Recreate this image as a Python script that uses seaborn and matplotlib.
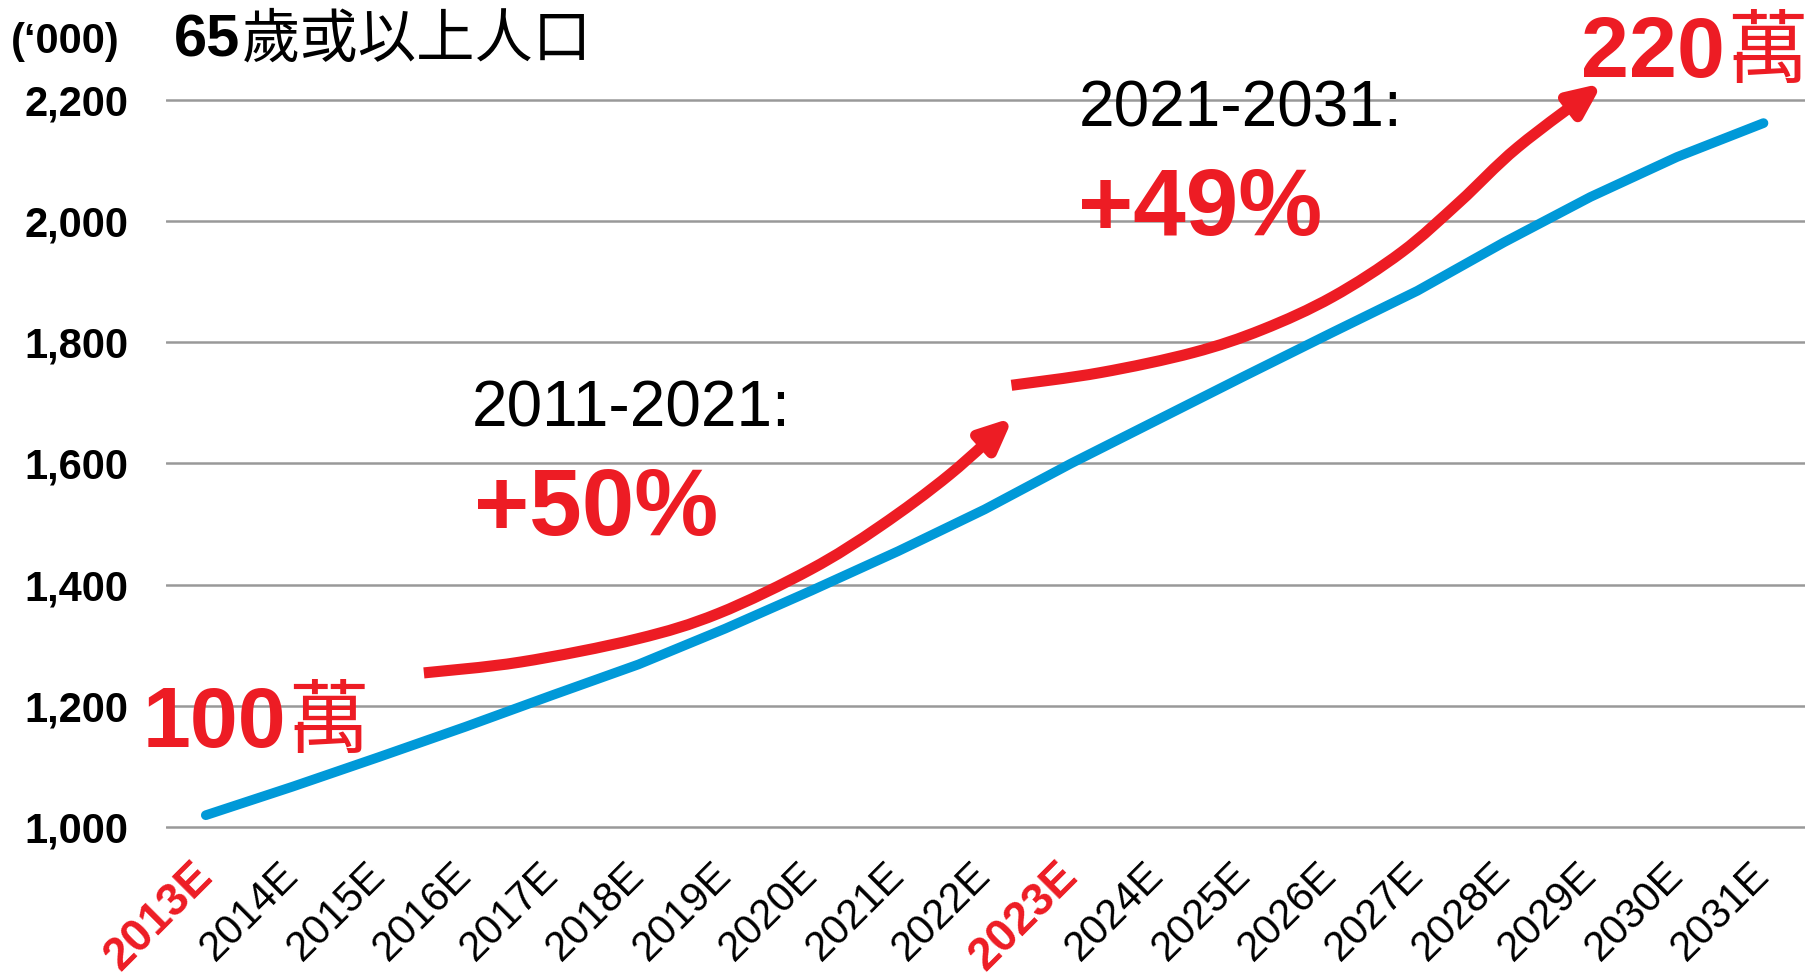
import matplotlib
matplotlib.use("Agg")
import matplotlib.pyplot as plt
from matplotlib.path import Path
from matplotlib.patches import FancyArrowPatch
import numpy as np
import pandas as pd
import seaborn as sns

# ---------------- data ----------------
years = ["2013E", "2014E", "2015E", "2016E", "2017E", "2018E", "2019E", "2020E",
         "2021E", "2022E", "2023E", "2024E", "2025E", "2026E", "2027E", "2028E",
         "2029E", "2030E", "2031E"]
population = [1019, 1066, 1115, 1165, 1217, 1268, 1327, 1390, 1455, 1524,
              1600, 1672, 1744, 1815, 1885, 1965, 2040, 2106, 2162]
highlight_years = ["2013E", "2023E"]
y_ticks = [1000, 1200, 1400, 1600, 1800, 2000, 2200]

# annotation arrows (x = year index, y = value)
arrow1_x = [2.52, 3.64, 4.98, 5.92, 6.99, 7.79, 8.60, 9.33]
arrow1_y = [1254, 1272, 1310, 1352, 1425, 1496, 1582, 1676]
arrow2_x = [9.31, 10.34, 11.41, 12.21, 13.02, 13.82, 14.49, 15.16, 16.14]
arrow2_y = [1729, 1750, 1783, 1821, 1875, 1949, 2032, 2122, 2228]

title_num = "65"
title_cjk = "歲或以上人口"
unit_label = "(‘000)"
period1 = "2011-2021:"
growth1 = "+50%"
period2 = "2021-2031:"
growth2 = "+49%"
start_num, end_num, wan = "100", "220", "萬"

BLUE = "#0099D8"
RED = "#ED1C24"

# ---------------- style ----------------
sns.set_theme(style="white")
plt.rcParams["font.family"] = ["Liberation Sans", "Noto Sans CJK TC", "DejaVu Sans"]

W, H = 1816, 977
fig = plt.figure(figsize=(W / 100, H / 100), dpi=100)
fig.patch.set_facecolor("white")

ax_left, ax_right = 166, 1805
ax_top_v, ax_bot_v = 2300, 980
y_of = lambda v: 826.7 - (v - 1000) * 0.6055
top_px, bot_px = y_of(ax_top_v), y_of(ax_bot_v)
ax = fig.add_axes([ax_left / W, 1 - bot_px / H, (ax_right - ax_left) / W, (bot_px - top_px) / H])

df = pd.DataFrame({"idx": np.arange(len(years)), "pop": population})
sns.lineplot(data=df, x="idx", y="pop", color=BLUE, linewidth=7, ax=ax,
             solid_capstyle="round", zorder=3)

ax.set_xlim(-0.46, 18.48)
ax.set_ylim(ax_bot_v, ax_top_v)
for s in ax.spines.values():
    s.set_visible(False)
ax.set_xlabel("")
ax.set_ylabel("")
ax.set_yticks(y_ticks)
ax.set_yticklabels([f"{v:,}" for v in y_ticks], fontsize=30, fontweight="bold", color="black")
ax.yaxis.grid(True, color="#999999", linewidth=1.8)
ax.xaxis.grid(False)
ax.set_axisbelow(True)
ax.tick_params(axis="y", length=0, pad=27)
ax.set_xticks(np.arange(len(years)))
ax.set_xticklabels(years, rotation=45, ha="right", va="center", rotation_mode="anchor",
                   fontsize=30, color="black")
ax.tick_params(axis="x", length=0, pad=22)
for lbl in ax.get_xticklabels():
    if lbl.get_text() in highlight_years:
        lbl.set_color(RED)
        lbl.set_fontweight("bold")
        lbl.set_fontsize(33)


def smooth_path(xs, ys):
    """Catmull-Rom curve through the given points as cubic Bezier segments."""
    P = np.column_stack([xs, ys]).astype(float)
    n = len(P)
    verts = [P[0]]
    codes = [Path.MOVETO]
    for i in range(n - 1):
        p0 = P[i - 1] if i > 0 else P[i]
        p1, p2 = P[i], P[i + 1]
        p3 = P[i + 2] if i + 2 < n else P[i + 1]
        c1 = p1 + (p2 - p0) / 6.0
        c2 = p2 - (p3 - p1) / 6.0
        verts += [c1, c2, p2]
        codes += [Path.CURVE4] * 3
    return Path(np.array(verts), codes)


def draw_arrow(xs, ys):
    p = smooth_path(xs, ys)
    arr = FancyArrowPatch(path=p, arrowstyle="-|>,head_length=1.9,head_width=0.85",
                          mutation_scale=10, color=RED, linewidth=8,
                          joinstyle="round", capstyle="butt", zorder=4,
                          transform=ax.transData, clip_on=False)
    ax.add_patch(arr)


draw_arrow(arrow1_x, arrow1_y)
draw_arrow(arrow2_x, arrow2_y)


def px(x, y):
    return x / W, 1 - y / H


renderer = fig.canvas.get_renderer()


def mixed(x, base_y, num, cjk, size, color, cjk_size=None):
    t = fig.text(*px(x, base_y), num, fontsize=size, fontweight="bold", color=color,
                 family=["Liberation Sans"], ha="left", va="baseline")
    bb = t.get_window_extent(renderer)
    fig.text(bb.x1 / W + 0.001, 1 - base_y / H, cjk, fontsize=cjk_size or size,
             color=color, family=["Noto Sans CJK TC", "DejaVu Sans"],
             ha="left", va="baseline")


fig.text(*px(11, 53), unit_label, fontsize=30, fontweight="bold", color="black",
         ha="left", va="baseline")
mixed(174, 56.7, title_num, title_cjk, 43, "black", cjk_size=42)

fig.text(*px(472, 426.7), period1, fontsize=46, color="black", ha="left", va="baseline")
fig.text(*px(474, 535), growth1, fontsize=68, fontweight="bold", color=RED,
         ha="left", va="baseline")
fig.text(*px(1079, 126.7), period2, fontsize=46, color="black", ha="left", va="baseline")
fig.text(*px(1078, 235), growth2, fontsize=68, fontweight="bold", color=RED,
         ha="left", va="baseline")

mixed(143, 746.7, start_num, wan, 62, RED, cjk_size=58)
mixed(1581, 77.3, end_num, wan, 62, RED, cjk_size=58)

fig.savefig("out.png", dpi=100, facecolor="white")
